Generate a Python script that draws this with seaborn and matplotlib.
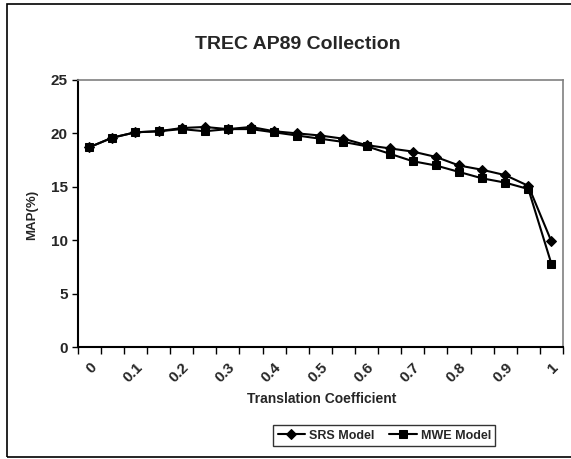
import matplotlib
matplotlib.use("Agg")
import matplotlib.pyplot as plt
from matplotlib.patches import Rectangle
import seaborn as sns
import numpy as np

# Dane
coef_labels = ['0', '0.1', '0.2', '0.3', '0.4', '0.5', '0.6', '0.7', '0.8', '0.9', '1']
coef = [0, 0.05, 0.1, 0.15, 0.2, 0.25, 0.3, 0.35, 0.4, 0.45, 0.5,
        0.55, 0.6, 0.65, 0.7, 0.75, 0.8, 0.85, 0.9, 0.95, 1.0]
srs_map = [18.7, 19.6, 20.1, 20.2, 20.5, 20.6, 20.4, 20.6, 20.2, 20.0, 19.8,
           19.5, 18.9, 18.6, 18.3, 17.8, 17.0, 16.6, 16.1, 15.1, 9.9]
mwe_map = [18.7, 19.6, 20.1, 20.2, 20.4, 20.2, 20.4, 20.4, 20.1, 19.8, 19.5,
           19.2, 18.8, 18.1, 17.4, 17.0, 16.4, 15.8, 15.4, 14.8, 7.8]

sns.set_style("white")
plt.rcParams['font.family'] = ['Liberation Sans', 'DejaVu Sans']
plt.rcParams['font.weight'] = 'bold'

fig = plt.figure(figsize=(5.71, 4.59), dpi=100)
ax = fig.add_axes([0.136, 0.243, 0.850, 0.583])

pos = np.arange(len(coef))
sns.lineplot(x=pos, y=srs_map, ax=ax, color='black', marker='D', markersize=5,
             markeredgecolor='black', linewidth=1.5, label='SRS Model')
sns.lineplot(x=pos, y=mwe_map, ax=ax, color='black', marker='s', markersize=6,
             markeredgecolor='black', linewidth=1.5, label='MWE Model')

ax.set_xlim(-0.5, len(coef) - 0.5)
ax.set_ylim(0, 25)
ax.set_yticks([0, 5, 10, 15, 20, 25])
ax.set_yticklabels(['0', '5', '10', '15', '20', '25'], fontsize=11, fontweight='bold')
ax.set_xticks(pos[::2])
ax.set_xticklabels(coef_labels, rotation=45, ha='right', rotation_mode='anchor',
                   fontsize=11, fontweight='bold')
ax.set_xticks(np.arange(-0.5, len(coef), 1.0), minor=True)
ax.tick_params(axis='x', which='major', length=0, pad=9)
ax.tick_params(axis='x', which='minor', length=5, width=1, color='black', direction='out', bottom=True)
ax.tick_params(axis='y', length=4, width=1, color='black', direction='out', left=True, pad=3)

ax.spines['left'].set_color('black')
ax.spines['left'].set_linewidth(1.5)
ax.spines['bottom'].set_color('black')
ax.spines['bottom'].set_linewidth(1.5)
ax.spines['top'].set_color('#808080')
ax.spines['right'].set_color('#808080')
ax.spines['top'].set_linewidth(1.2)
ax.spines['right'].set_linewidth(1.2)

ax.set_xlabel('')
ax.set_ylabel('')
fig.text(0.521, 0.902, 'TREC AP89 Collection', ha='center', va='center',
         fontsize=14, fontweight='bold')
fig.text(0.0555, 0.532, 'MAP(%)', rotation=90, ha='center', va='center',
         fontsize=9.5, fontweight='bold')
fig.text(0.563, 0.131, 'Translation Coefficient', ha='center', va='center',
         fontsize=10, fontweight='bold')

leg = ax.legend(loc='center', bbox_to_anchor=(0.673, 0.051), bbox_transform=fig.transFigure,
                ncol=2, frameon=True, fancybox=False, handlelength=2.2,
                columnspacing=1.2, handletextpad=0.3, borderpad=0.35, prop={'weight': 'bold', 'size': 9})
leg.get_frame().set_edgecolor('black')
leg.get_frame().set_linewidth(1.0)

# Ramka całego wykresu
fig.patches.append(Rectangle((7 / 571, 2 / 459), 1.0, 453 / 459, transform=fig.transFigure,
                             fill=False, edgecolor='black', linewidth=1.2))

fig.savefig('out.png', dpi=100)
